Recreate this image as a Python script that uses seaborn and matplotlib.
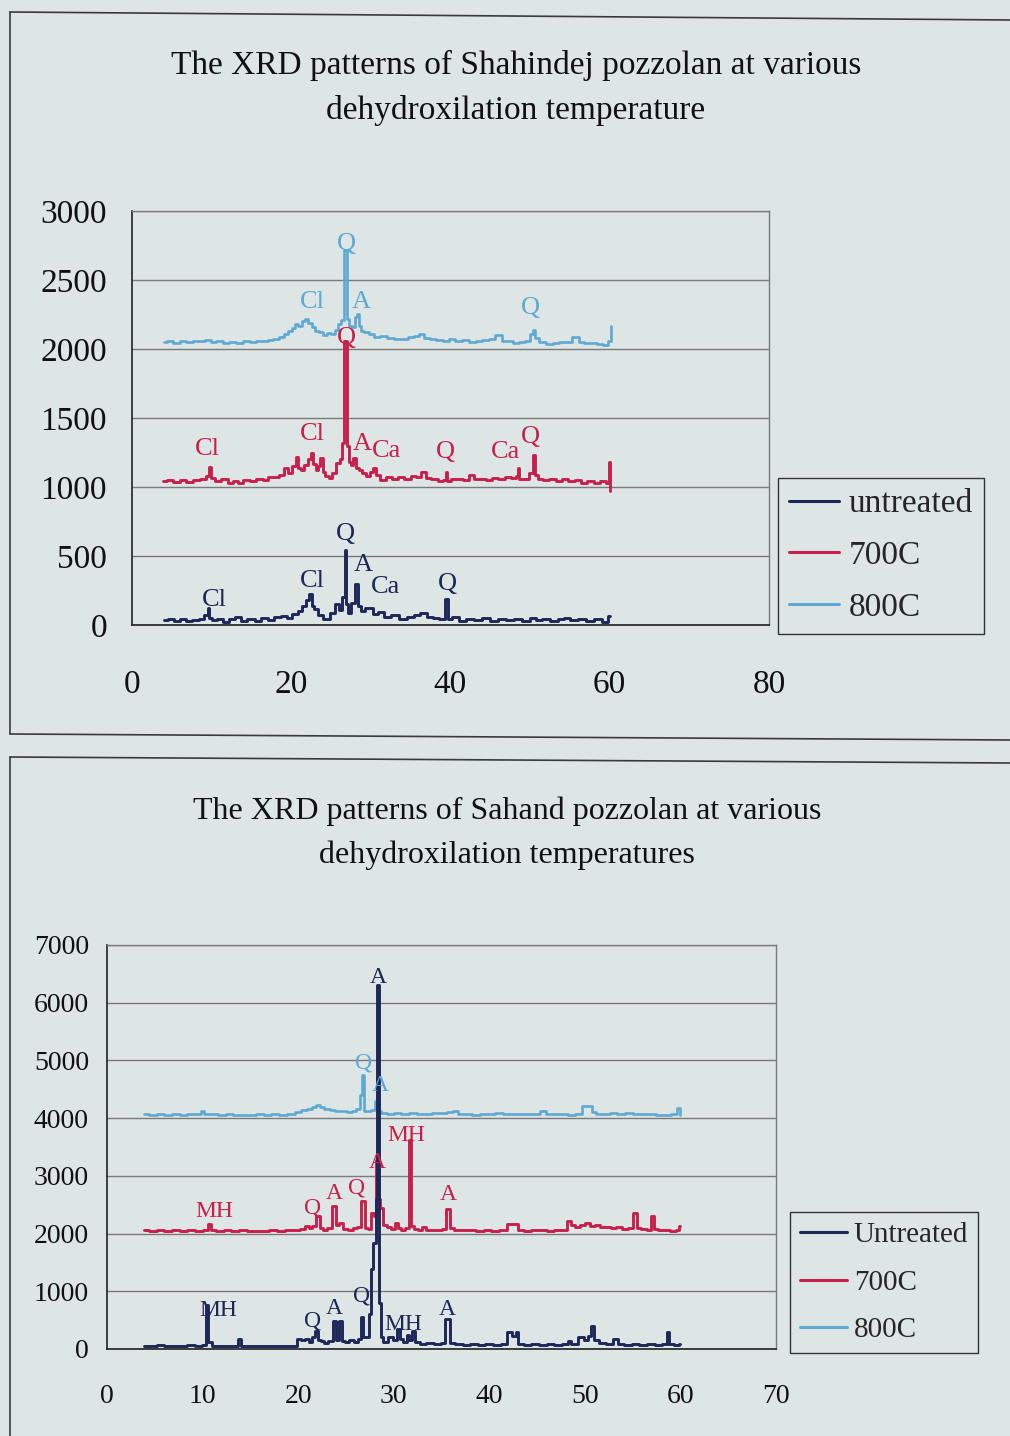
import matplotlib
matplotlib.use("Agg")
import matplotlib.pyplot as plt
from matplotlib.lines import Line2D
import pandas as pd
import seaborn as sns

# ---------------- data: 2-theta (deg) vs counts ----------------
# Shahindej pozzolan
shah_untreated = [(4.0, 35), (5.0, 45), (5.5, 30), (6.5, 40), (7.0, 28), (8.0, 38), (8.8, 45), (9.4, 70),
                  (9.6, 120), (9.8, 50), (10.4, 35), (11.0, 45), (11.8, 25), (12.5, 40), (13.4, 55), (14.0, 30),
                  (15.0, 45), (15.8, 30), (16.6, 50), (17.5, 35), (18.2, 55), (19.2, 66), (19.8, 50), (20.4, 80),
                  (21.2, 102), (21.6, 140), (22.0, 180), (22.4, 227), (22.7, 140), (23.0, 114), (23.6, 70),
                  (24.5, 42), (25.2, 90), (25.7, 150), (26.2, 110), (26.6, 200), (26.8, 545), (27.0, 150),
                  (27.3, 90), (27.8, 160), (28.2, 300), (28.5, 140), (28.9, 100), (29.5, 120), (30.0, 126),
                  (30.6, 80), (31.2, 95), (32.0, 60), (33.0, 70), (34.0, 45), (35.0, 60), (35.8, 75), (36.6, 90),
                  (37.4, 55), (38.2, 50), (39.0, 40), (39.5, 191), (39.8, 40), (40.6, 55), (41.5, 30), (42.5, 45),
                  (43.5, 35), (44.5, 50), (45.5, 30), (46.5, 45), (47.5, 35), (48.5, 40), (49.5, 30), (50.5, 54),
                  (51.0, 35), (52.0, 45), (53.0, 30), (54.0, 40), (54.5, 54), (55.5, 38), (56.5, 45), (57.5, 30),
                  (58.5, 40), (59.5, 25), (60.0, 66)]
shah_700 = [(3.9, 1040), (4.8, 1050), (5.6, 1035), (6.4, 1048), (7.2, 1038), (8.2, 1052), (9.0, 1060), (9.6, 1080),
            (9.8, 1148), (10.1, 1065), (10.8, 1040), (11.6, 1055), (12.4, 1030), (13.0, 1045), (13.6, 1028),
            (14.4, 1050), (15.2, 1040), (16.0, 1060), (16.8, 1050), (17.3, 1076), (18.0, 1070), (18.8, 1090),
            (19.4, 1136), (19.9, 1100), (20.4, 1150), (20.7, 1220), (21.0, 1140), (21.4, 1120), (21.8, 1160),
            (22.3, 1200), (22.6, 1244), (22.9, 1170), (23.2, 1124), (23.5, 1150), (23.8, 1208), (24.1, 1110),
            (24.5, 1080), (24.9, 1064), (25.3, 1100), (25.9, 1172), (26.3, 1200), (26.5, 1317), (26.7, 2060),
            (26.9, 2060), (27.1, 1300), (27.3, 1184), (27.6, 1160), (27.9, 1208), (28.3, 1140), (28.7, 1120),
            (29.1, 1100), (29.6, 1080), (30.1, 1110), (30.5, 1136), (30.9, 1090), (31.5, 1052), (32.2, 1070),
            (33.0, 1055), (33.8, 1075), (34.6, 1060), (35.4, 1080), (36.0, 1070), (36.6, 1112), (37.2, 1065),
            (38.0, 1060), (38.8, 1045), (39.4, 1050), (39.5, 1112), (39.7, 1040), (40.4, 1055), (41.2, 1060),
            (42.0, 1050), (42.6, 1088), (43.2, 1055), (44.0, 1060), (44.8, 1050), (45.6, 1065), (46.4, 1060),
            (47.2, 1070), (48.0, 1065), (48.4, 1080), (48.5, 1136), (48.7, 1060), (49.4, 1055), (50.2, 1100),
            (50.5, 1232), (50.8, 1090), (51.2, 1060), (52.0, 1050), (52.8, 1055), (53.6, 1040), (54.4, 1060),
            (55.2, 1040), (56.0, 1050), (56.8, 1030), (57.6, 1045), (58.4, 1028), (59.2, 1040), (59.8, 1030),
            (60.0, 1184), (60.05, 968)]
shah_800 = [(4.0, 2050), (4.8, 2055), (5.6, 2045), (6.4, 2058), (7.2, 2050), (8.0, 2056), (8.8, 2060), (9.6, 2067),
            (10.2, 2050), (11.0, 2055), (11.8, 2045), (12.6, 2050), (13.6, 2043), (14.4, 2055), (15.2, 2050),
            (16.0, 2060), (16.8, 2058), (17.3, 2062), (18.0, 2075), (18.8, 2090), (19.4, 2110), (19.9, 2130),
            (20.3, 2150), (20.7, 2183), (21.1, 2170), (21.5, 2200), (21.9, 2219), (22.3, 2190), (22.8, 2160),
            (23.2, 2134), (23.8, 2120), (24.3, 2098), (24.8, 2115), (25.3, 2110), (25.7, 2140), (26.0, 2183),
            (26.5, 2207), (26.7, 2720), (26.9, 2720), (27.1, 2220), (27.4, 2170), (27.8, 2160), (28.1, 2230),
            (28.3, 2254), (28.6, 2170), (28.8, 2134), (29.4, 2120), (30.1, 2110), (30.8, 2090), (31.6, 2095),
            (32.4, 2080), (33.4, 2074), (34.2, 2070), (35.0, 2085), (35.8, 2095), (36.4, 2110), (37.0, 2080),
            (37.8, 2070), (38.6, 2065), (39.4, 2060), (40.2, 2070), (41.0, 2055), (41.9, 2062), (42.8, 2050),
            (43.6, 2060), (44.4, 2065), (45.2, 2070), (46.1, 2098), (46.8, 2060), (47.5, 2058), (48.2, 2045),
            (49.0, 2050), (49.8, 2060), (50.2, 2110), (50.5, 2139), (50.8, 2080), (51.4, 2050), (52.5, 2033),
            (53.2, 2040), (54.0, 2048), (54.8, 2050), (55.8, 2086), (56.4, 2050), (57.2, 2045), (58.0, 2040),
            (58.8, 2035), (59.6, 2026), (60.0, 2060), (60.2, 2170)]

# Sahand pozzolan
sah_untreated = [(3.9, 60), (4.8, 50), (5.6, 65), (6.4, 55), (7.2, 60), (8.0, 50), (8.8, 62), (9.6, 55), (10.3, 70),
                 (10.5, 760), (10.7, 120), (11.2, 55), (12.0, 50), (12.8, 60), (13.6, 55), (13.9, 173), (14.2, 60),
                 (15.0, 50), (15.8, 45), (16.6, 55), (17.4, 50), (18.2, 45), (19.0, 55), (19.7, 60), (20.1, 173),
                 (20.5, 150), (20.9, 173), (21.3, 120), (21.7, 200), (21.9, 317), (22.2, 150), (22.5, 144),
                 (22.9, 110), (23.4, 140), (23.8, 490), (24.1, 150), (24.4, 490), (24.7, 130), (25.1, 115),
                 (25.6, 150), (26.1, 120), (26.5, 180), (26.7, 547), (26.9, 200), (27.3, 202), (27.5, 600),
                 (27.7, 1382), (28.0, 1843), (28.2, 2600), (28.4, 6300), (28.6, 800), (28.7, 202), (29.1, 115),
                 (29.7, 210), (30.1, 160), (30.5, 346), (30.8, 180), (31.2, 120), (31.5, 250), (31.8, 160),
                 (32.1, 317), (32.4, 120), (33.0, 86), (33.8, 100), (34.6, 80), (35.2, 110), (35.5, 518),
                 (35.8, 518), (36.0, 110), (36.8, 90), (37.6, 70), (38.4, 95), (39.2, 70), (40.0, 90), (40.8, 75),
                 (41.6, 85), (42.2, 288), (42.6, 220), (42.9, 288), (43.2, 90), (44.0, 75), (44.8, 85), (45.6, 70),
                 (46.4, 80), (47.2, 70), (48.0, 85), (48.4, 144), (48.8, 90), (49.7, 202), (50.1, 150), (50.5, 230),
                 (50.8, 403), (51.1, 150), (51.8, 110), (52.6, 90), (53.3, 170), (53.7, 90), (54.5, 75), (55.3, 80),
                 (56.1, 70), (56.9, 80), (57.7, 75), (58.4, 90), (58.7, 288), (59.0, 90), (59.6, 70), (60.0, 80)]
sah_700 = [(3.9, 2060), (4.8, 2050), (5.6, 2062), (6.4, 2048), (7.2, 2058), (8.0, 2050), (8.8, 2060), (9.6, 2052),
           (10.4, 2060), (10.7, 2160), (11.0, 2060), (11.8, 2050), (12.6, 2058), (13.4, 2048), (14.2, 2055),
           (15.0, 2045), (15.8, 2052), (16.6, 2045), (17.4, 2055), (18.2, 2048), (19.0, 2055), (19.8, 2060),
           (20.5, 2080), (20.9, 2131), (21.3, 2100), (21.7, 2131), (22.1, 2304), (22.4, 2100), (22.8, 2070),
           (23.3, 2090), (23.8, 2477), (24.1, 2150), (24.5, 2180), (24.9, 2080), (25.5, 2070), (26.0, 2100),
           (26.4, 2120), (26.7, 2563), (26.9, 2563), (27.1, 2100), (27.5, 2080), (27.8, 2362), (28.0, 2300),
           (28.2, 3283), (28.4, 2600), (28.7, 2448), (29.0, 2150), (29.5, 2110), (30.0, 2080), (30.3, 2189),
           (30.6, 2090), (31.0, 2060), (31.4, 2100), (31.7, 3620), (31.9, 2130), (32.3, 2080), (32.8, 2060),
           (33.2, 2110), (33.6, 2060), (34.2, 2055), (34.8, 2065), (35.4, 2080), (35.6, 2431), (35.8, 2431),
           (36.0, 2100), (36.6, 2065), (37.4, 2055), (38.2, 2060), (39.0, 2050), (39.8, 2062), (40.6, 2050),
           (41.4, 2055), (42.3, 2160), (42.9, 2160), (43.2, 2060), (44.0, 2050), (44.8, 2058), (45.6, 2055),
           (46.4, 2048), (47.2, 2058), (48.0, 2060), (48.3, 2218), (48.7, 2150), (49.2, 2120), (49.8, 2140),
           (50.3, 2190), (50.8, 2130), (51.3, 2150), (51.8, 2110), (52.4, 2120), (53.0, 2100), (53.6, 2110),
           (54.2, 2080), (54.8, 2100), (55.3, 2362), (55.6, 2100), (56.2, 2080), (56.8, 2070), (57.1, 2300),
           (57.4, 2080), (58.0, 2060), (58.6, 2070), (59.2, 2050), (59.8, 2060), (60.0, 2130)]
sah_800 = [(3.9, 4065), (4.8, 4060), (5.6, 4070), (6.4, 4062), (7.2, 4068), (8.0, 4060), (8.8, 4066), (9.6, 4070),
           (10.0, 4118), (10.4, 4075), (11.2, 4065), (12.0, 4060), (12.8, 4068), (13.6, 4055), (14.4, 4062),
           (15.2, 4058), (16.0, 4065), (16.8, 4060), (17.6, 4068), (18.4, 4060), (19.3, 4070), (20.0, 4100),
           (20.6, 4140), (21.2, 4159), (21.7, 4190), (22.1, 4234), (22.5, 4200), (23.0, 4160), (23.6, 4140),
           (24.2, 4118), (24.8, 4125), (25.4, 4110), (25.9, 4130), (26.3, 4160), (26.6, 4400), (26.8, 4752),
           (27.0, 4130), (27.4, 4120), (27.8, 4140), (28.2, 4291), (28.5, 4120), (28.9, 4090), (29.6, 4080),
           (30.4, 4095), (31.2, 4075), (32.0, 4085), (32.8, 4070), (33.6, 4080), (34.4, 4085), (35.2, 4095),
           (36.0, 4100), (36.5, 4118), (37.0, 4080), (37.8, 4070), (38.6, 4062), (39.4, 4075), (40.2, 4070),
           (41.0, 4085), (41.8, 4065), (42.6, 4075), (43.4, 4070), (44.2, 4080), (45.0, 4075), (45.7, 4118),
           (46.2, 4075), (47.0, 4068), (47.8, 4065), (48.6, 4062), (49.4, 4065), (50.0, 4205), (50.5, 4205),
           (50.9, 4100), (51.5, 4080), (52.2, 4070), (53.0, 4085), (53.8, 4078), (54.6, 4085), (55.4, 4070),
           (56.2, 4065), (57.0, 4068), (57.8, 4062), (58.6, 4060), (59.4, 4065), (59.9, 4176), (60.0, 4060)]

# phase labels: (text, 2-theta, counts, sample)
shah_labels = [("Q", 26.9, 2760, "800C"), ("Cl", 22.6, 2340, "800C"), ("A", 28.8, 2340, "800C"),
               ("Q", 50.0, 2298, "800C"),
               ("Cl", 9.5, 1273, "700C"), ("Cl", 22.6, 1381, "700C"), ("Q", 26.9, 2080, "700C"),
               ("A", 28.9, 1309, "700C"), ("Ca", 31.9, 1259, "700C"), ("Q", 39.4, 1252, "700C"),
               ("Ca", 46.9, 1252, "700C"), ("Q", 50.0, 1360, "700C"),
               ("Q", 26.8, 660, "untreated"), ("A", 29.0, 436, "untreated"), ("Cl", 22.6, 321, "untreated"),
               ("Ca", 31.8, 278, "untreated"), ("Q", 39.6, 300, "untreated"), ("Cl", 10.4, 184, "untreated")]
sah_labels = [("Q", 26.8, 4959, "800C"), ("A", 28.6, 4562, "800C"),
              ("MH", 11.2, 2385, "700C"), ("Q", 21.5, 2436, "700C"), ("A", 23.8, 2696, "700C"),
              ("Q", 26.1, 2782, "700C"), ("A", 28.3, 3231, "700C"), ("MH", 31.3, 3698, "700C"),
              ("A", 35.7, 2678, "700C"),
              ("A", 28.4, 6445, "untreated"), ("MH", 11.6, 674, "untreated"), ("Q", 21.5, 484, "untreated"),
              ("A", 23.8, 708, "untreated"), ("Q", 26.6, 916, "untreated"), ("MH", 31.0, 432, "untreated"),
              ("A", 35.6, 691, "untreated")]

shah_xticks = [0, 20, 40, 60, 80]
shah_yticks = [0, 500, 1000, 1500, 2000, 2500, 3000]
sah_xticks = [0, 10, 20, 30, 40, 50, 60, 70]
sah_yticks = [0, 1000, 2000, 3000, 4000, 5000, 6000, 7000]

colors = {"untreated": "#1d2758", "700C": "#c8204c", "800C": "#5ea9d2"}
BG = "#dde6e4"

sns.set_theme(style="white")
plt.rcParams["font.family"] = ["Liberation Serif", "DejaVu Serif"]
plt.rcParams["axes.facecolor"] = BG
plt.rcParams["figure.facecolor"] = BG

W, H = 1010, 1436
fig = plt.figure(figsize=(W / 100, H / 100), dpi=100)


def fx(px):
    return px / W


def fy(py):
    return 1 - py / H


def to_frame(pairs, name):
    return pd.DataFrame({"two_theta": [p[0] for p in pairs],
                         "counts": [p[1] for p in pairs],
                         "sample": name})


def draw_panel(ax, series, labels, xticks, yticks, lab_size, tick_size):
    # heated samples first so the untreated trace sits on top
    for name, pairs, lw, z in series:
        sns.lineplot(data=to_frame(pairs, name), x="two_theta", y="counts", ax=ax,
                     color=colors[name], lw=lw, sort=False, estimator=None,
                     legend=False, zorder=z, drawstyle="steps-mid")
    for txt, x, y, name in labels:
        ax.text(x, y, txt, color=colors[name], fontsize=lab_size,
                ha="center", va="center", zorder=6)
    ax.set_xlim(xticks[0], xticks[-1])
    ax.set_ylim(yticks[0], yticks[-1])
    ax.set_xticks(xticks)
    ax.set_yticks(yticks)
    ax.set_xlabel("")
    ax.set_ylabel("")
    ax.yaxis.grid(True, color="#7a7a7a", lw=1.0)
    ax.xaxis.grid(False)
    ax.set_axisbelow(True)
    for s in ("left", "bottom"):
        ax.spines[s].set_color("#222222")
        ax.spines[s].set_linewidth(1.2)
    for s in ("top", "right"):
        ax.spines[s].set_color("#7a7a7a")
        ax.spines[s].set_linewidth(1.0)
    ax.tick_params(axis="both", which="major", direction="out", colors="#222222",
                   labelcolor="#111111", labelsize=tick_size, length=9, width=1.0)


# ---------------- chart area frames ----------------
frame_kw = dict(color="#3a3a3a", lw=1.2, transform=fig.transFigure)
fig.add_artist(Line2D([fx(10), fx(1010)], [fy(12), fy(20)], **frame_kw))
fig.add_artist(Line2D([fx(10), fx(10)], [fy(12), fy(734)], **frame_kw))
fig.add_artist(Line2D([fx(10), fx(1010)], [fy(734), fy(740)], **frame_kw))
fig.add_artist(Line2D([fx(10), fx(1010)], [fy(757), fy(763)], **frame_kw))
fig.add_artist(Line2D([fx(10), fx(10)], [fy(757), fy(1436)], **frame_kw))

# ---------------- top panel: Shahindej ----------------
ax1 = fig.add_axes([fx(132), fy(625), fx(769) - fx(132), fy(211) - fy(625)])
draw_panel(ax1,
           [("800C", shah_800, 1.9, 2), ("700C", shah_700, 2.1, 3), ("untreated", shah_untreated, 2.1, 4)],
           shah_labels, shah_xticks, shah_yticks, 19, 24)
ax1.tick_params(axis="x", pad=23)
ax1.tick_params(axis="y", pad=9)
fig.text(fx(516), fy(88), "The XRD patterns of Shahindej pozzolan at various\ndehydroxilation temperature",
         ha="center", va="center", fontsize=24, linespacing=1.62, color="#111111")

h1 = [Line2D([], [], color=colors[k], lw=2.2) for k in ("untreated", "700C", "800C")]
leg1 = fig.legend(h1, ["untreated", "700C", "800C"], loc="upper left",
                  bbox_to_anchor=(fx(778), fy(478)), bbox_transform=fig.transFigure,
                  fontsize=24, frameon=True, fancybox=False, edgecolor="#333333",
                  facecolor=BG, framealpha=1, handlelength=1.5, handletextpad=0.3,
                  labelspacing=0.64, borderpad=0.32, borderaxespad=0)
leg1.get_frame().set_linewidth(1.0)

# ---------------- bottom panel: Sahand ----------------
ax2 = fig.add_axes([fx(107), fy(1349), fx(776) - fx(107), fy(945) - fy(1349)])
draw_panel(ax2,
           [("800C", sah_800, 1.9, 2), ("700C", sah_700, 2.1, 3), ("untreated", sah_untreated, 2.1, 4)],
           sah_labels, sah_xticks, sah_yticks, 17, 20)
ax2.tick_params(axis="x", pad=16)
ax2.tick_params(axis="y", pad=4)
fig.text(fx(507), fy(833), "The XRD patterns of Sahand pozzolan at various\ndehydroxilation temperatures",
         ha="center", va="center", fontsize=23, linespacing=1.65, color="#111111")

h2 = [Line2D([], [], color=colors[k], lw=2.2) for k in ("untreated", "700C", "800C")]
leg2 = fig.legend(h2, ["Untreated", "700C", "800C"], loc="upper left",
                  bbox_to_anchor=(fx(790), fy(1212)), bbox_transform=fig.transFigure,
                  fontsize=21, frameon=True, fancybox=False, edgecolor="#333333",
                  facecolor=BG, framealpha=1, handlelength=1.6, handletextpad=0.25,
                  labelspacing=0.72, borderpad=0.34, borderaxespad=0)
leg2.get_frame().set_linewidth(1.0)

fig.savefig("out.png", dpi=100, facecolor=BG)
